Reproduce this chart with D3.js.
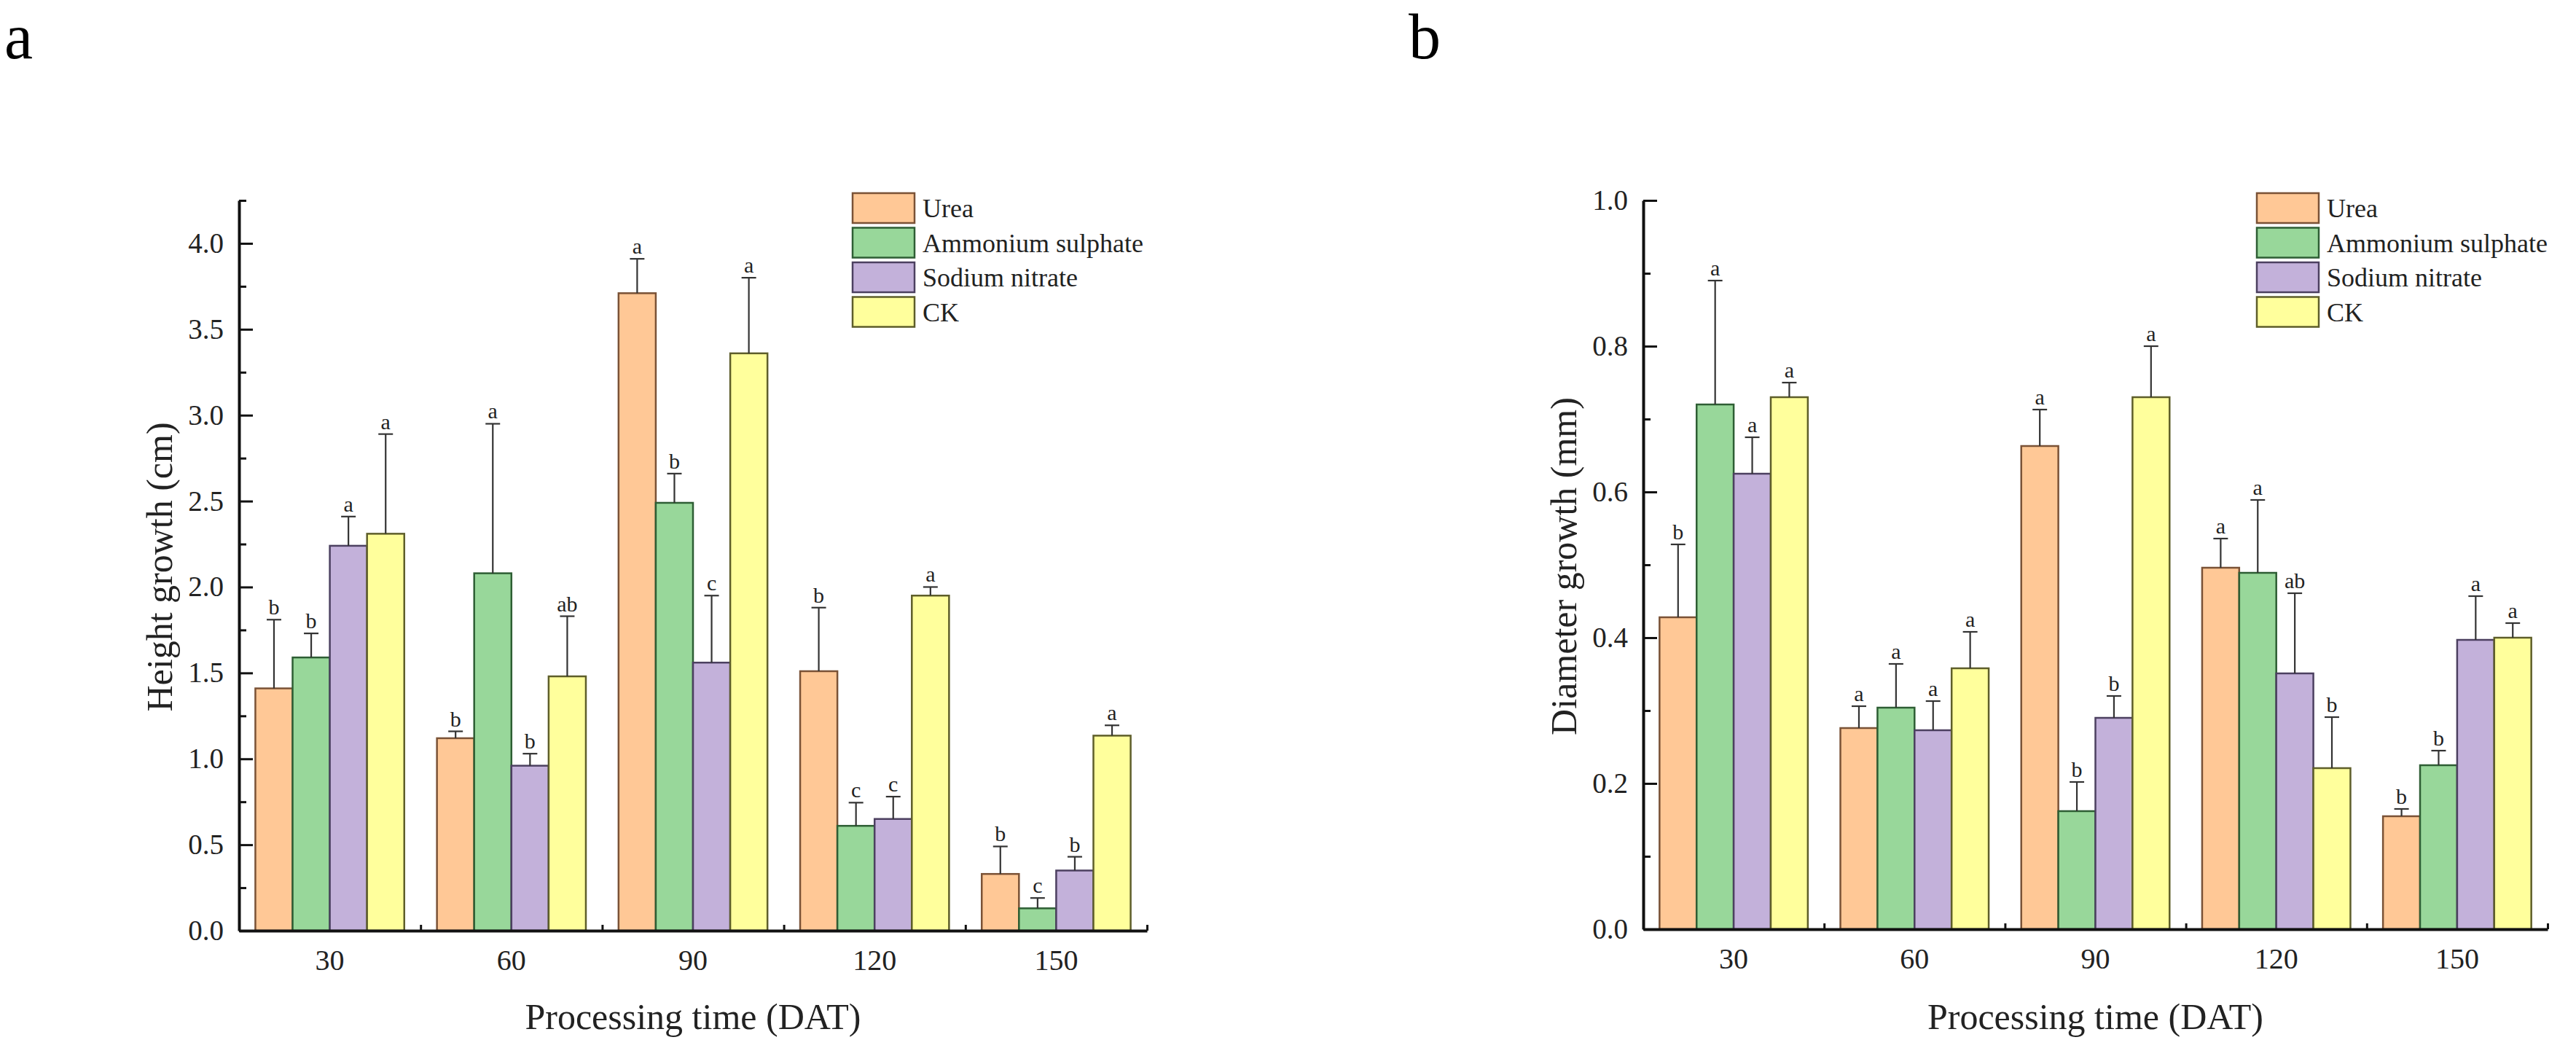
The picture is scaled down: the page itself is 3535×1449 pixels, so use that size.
<!DOCTYPE html>
<html>
<head>
<meta charset="utf-8">
<script src="https://cdn.jsdelivr.net/npm/d3@7"></script>
<style>
  body { margin: 0; background: #fff; }
  svg { display: block; font-family: "Liberation Serif", "Times New Roman", serif; }
</style>
</head>
<body>
<div id="chart"></div>
<script>
const categories = ["30", "60", "90", "120", "150"];
const series = ["Urea", "Ammonium sulphate", "Sodium nitrate", "CK"];
const fills = ["#ffc896", "#98d79a", "#c3b1da", "#ffff9c"];
const strokes = ["#7a5236", "#2e5e34", "#4c4060", "#5e5e2a"];

// panel a: height growth (cm)
const heightUrea = [1.41, 1.12, 3.71, 1.51, 0.33];
const heightAmmonium = [1.59, 2.08, 2.49, 0.61, 0.13];
const heightSodium = [2.24, 0.96, 1.56, 0.65, 0.35];
const heightCK = [2.31, 1.48, 3.36, 1.95, 1.135];
const heightErrUrea = [0.40, 0.04, 0.20, 0.37, 0.16];
const heightErrAmmonium = [0.14, 0.87, 0.17, 0.135, 0.06];
const heightErrSodium = [0.17, 0.07, 0.39, 0.13, 0.08];
const heightErrCK = [0.58, 0.35, 0.44, 0.05, 0.06];
const heightLetters = [
  ["b", "b", "a", "b", "b"],
  ["b", "a", "b", "c", "c"],
  ["a", "b", "c", "c", "b"],
  ["a", "ab", "a", "a", "a"]
];

// panel b: diameter growth (mm)
const diamUrea = [0.428, 0.276, 0.663, 0.496, 0.155];
const diamAmmonium = [0.720, 0.304, 0.162, 0.489, 0.225];
const diamSodium = [0.625, 0.273, 0.290, 0.351, 0.397];
const diamCK = [0.730, 0.358, 0.730, 0.221, 0.400];
const diamErrUrea = [0.10, 0.03, 0.05, 0.04, 0.01];
const diamErrAmmonium = [0.17, 0.06, 0.04, 0.10, 0.02];
const diamErrSodium = [0.05, 0.04, 0.03, 0.11, 0.06];
const diamErrCK = [0.02, 0.05, 0.07, 0.07, 0.02];
const diamLetters = [
  ["b", "a", "a", "a", "b"],
  ["a", "a", "b", "a", "b"],
  ["a", "a", "b", "ab", "a"],
  ["a", "a", "a", "b", "a"]
];

const width = 3535;
const height = 1449;

const svg = d3.select("#chart")
  .append("svg")
  .attr("width", width)
  .attr("height", height);

svg.append("rect")
  .attr("width", width)
  .attr("height", height)
  .attr("fill", "#fff");

function drawPanel(p) {
  const g = svg.append("g");

  const x = d3.scaleBand()
    .domain(categories)
    .range([p.left, p.right])
    .paddingInner(0.18)
    .paddingOuter(0.09);

  const xs = d3.scaleBand()
    .domain(series)
    .range([0, x.bandwidth()]);

  const xLin = d3.scaleLinear()
    .domain([0, categories.length])
    .range([p.left, p.right]);

  const y = d3.scaleLinear()
    .domain([0, p.max])
    .range([p.bottom, p.top]);

  // bars, error bars and letters
  const rows = [];
  series.forEach((s, si) => {
    categories.forEach((c, ci) => {
      rows.push({
        s: s, si: si, c: c,
        v: p.means[si][ci],
        e: p.errs[si][ci],
        l: p.letters[si][ci]
      });
    });
  });

  g.selectAll(".bar")
    .data(rows)
    .join("rect")
    .attr("x", d => x(d.c) + xs(d.s))
    .attr("y", d => y(d.v))
    .attr("width", xs.bandwidth())
    .attr("height", d => y(0) - y(d.v))
    .attr("fill", d => fills[d.si])
    .attr("stroke", d => strokes[d.si])
    .attr("stroke-width", 2.5);

  const cx = d => x(d.c) + xs(d.s) + xs.bandwidth() / 2;

  g.selectAll(".err")
    .data(rows)
    .join("line")
    .attr("x1", cx)
    .attr("x2", cx)
    .attr("y1", d => y(d.v))
    .attr("y2", d => y(d.v + d.e))
    .attr("stroke", "#333")
    .attr("stroke-width", 2.2);

  g.selectAll(".cap")
    .data(rows)
    .join("line")
    .attr("x1", d => cx(d) - 10)
    .attr("x2", d => cx(d) + 10)
    .attr("y1", d => y(d.v + d.e))
    .attr("y2", d => y(d.v + d.e))
    .attr("stroke", "#333")
    .attr("stroke-width", 2.2);

  g.selectAll(".letter")
    .data(rows)
    .join("text")
    .attr("x", cx)
    .attr("y", d => y(d.v + d.e) - 7)
    .attr("text-anchor", "middle")
    .attr("font-size", 30)
    .attr("fill", "#222")
    .text(d => d.l);

  // y axis: minor and major ticks pointing inward
  const minorTicks = d3.range(p.minor, p.max + 1e-9, p.major).filter(v => v > 0);
  const majorTicks = d3.range(0, p.max + 1e-9, p.major);

  g.append("g")
    .attr("transform", `translate(${p.left},0)`)
    .call(d3.axisLeft(y).tickValues(minorTicks).tickSize(-10).tickSizeOuter(0).tickFormat(""))
    .call(a => a.select(".domain").remove())
    .call(a => a.selectAll("line").attr("stroke", "#111").attr("stroke-width", 3));

  g.append("g")
    .attr("transform", `translate(${p.left},0)`)
    .call(d3.axisLeft(y).tickValues(majorTicks).tickSize(-19).tickSizeOuter(0)
      .tickPadding(21).tickFormat(d3.format(".1f")))
    .call(a => a.select(".domain").attr("stroke", "#111").attr("stroke-width", 4))
    .call(a => a.selectAll("line").attr("stroke", "#111").attr("stroke-width", 3))
    .call(a => a.selectAll("text")
      .attr("font-size", 39)
      .attr("font-family", "Liberation Serif")
      .attr("fill", "#222"));

  // x axis: labels at categories, ticks at group boundaries
  g.append("g")
    .attr("transform", `translate(0,${p.bottom})`)
    .call(d3.axisBottom(x).tickSize(0).tickSizeOuter(0).tickPadding(26))
    .call(a => a.select(".domain").remove())
    .call(a => a.selectAll("text")
      .attr("font-size", 40)
      .attr("font-family", "Liberation Serif")
      .attr("fill", "#222"));

  g.append("g")
    .attr("transform", `translate(0,${p.bottom})`)
    .call(d3.axisBottom(xLin).tickValues(d3.range(1, categories.length + 1)).tickSize(-8)
      .tickSizeOuter(0).tickFormat(""))
    .call(a => a.select(".domain").attr("stroke", "#111").attr("stroke-width", 4))
    .call(a => a.selectAll("line").attr("stroke", "#111").attr("stroke-width", 3));

  // axis titles
  g.append("text")
    .attr("x", (p.left + p.right) / 2)
    .attr("y", 1412)
    .attr("text-anchor", "middle")
    .attr("font-size", 50)
    .attr("fill", "#222")
    .text("Processing time (DAT)");

  g.append("text")
    .attr("transform", `translate(${p.left - 92},${(p.top + p.bottom) / 2 + 2}) rotate(-90)`)
    .attr("text-anchor", "middle")
    .attr("font-size", 50)
    .attr("fill", "#222")
    .text(p.yTitle);

  // legend
  const legend = g.append("g")
    .attr("transform", `translate(${p.left + 842},265)`);

  const item = legend.selectAll("g")
    .data(series)
    .join("g")
    .attr("transform", (d, i) => `translate(0,${i * 47.5})`);

  item.append("rect")
    .attr("width", 85)
    .attr("height", 41)
    .attr("fill", (d, i) => fills[i])
    .attr("stroke", (d, i) => strokes[i])
    .attr("stroke-width", 2.5);

  item.append("text")
    .attr("x", 96)
    .attr("y", 33)
    .attr("font-size", 36)
    .attr("fill", "#222")
    .text(d => d);

  // panel letter
  svg.append("text")
    .attr("x", p.left - 322)
    .attr("y", 80)
    .attr("font-size", 88)
    .attr("fill", "#000")
    .text(p.tag);
}

drawPanel({
  left: 328, right: 1574, top: 275, bottom: 1277,
  max: 4.25, major: 0.5, minor: 0.25,
  means: [heightUrea, heightAmmonium, heightSodium, heightCK],
  errs: [heightErrUrea, heightErrAmmonium, heightErrSodium, heightErrCK],
  letters: heightLetters,
  yTitle: "Height growth (cm)",
  tag: "a"
});

drawPanel({
  left: 2255, right: 3496, top: 275, bottom: 1275,
  max: 1.0, major: 0.2, minor: 0.1,
  means: [diamUrea, diamAmmonium, diamSodium, diamCK],
  errs: [diamErrUrea, diamErrAmmonium, diamErrSodium, diamErrCK],
  letters: diamLetters,
  yTitle: "Diameter growth (mm)",
  tag: "b"
});
</script>
</body>
</html>
